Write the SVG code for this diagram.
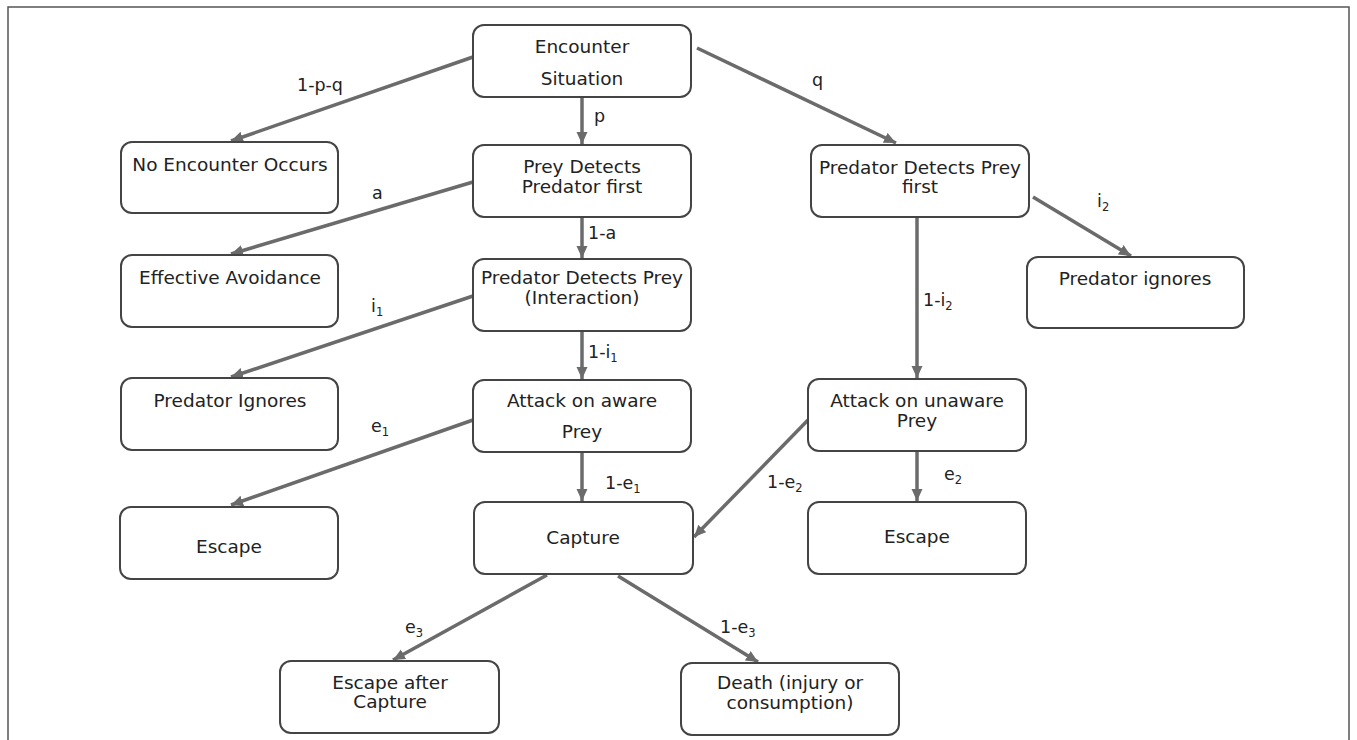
<svg xmlns="http://www.w3.org/2000/svg" width="1357" height="740" viewBox="0 0 1357 740">
<style>
.box{fill:#fff;stroke:#444;stroke-width:2}
.t{font-family:"DejaVu Sans",Verdana,sans-serif;font-size:18.5px;fill:#222;text-anchor:middle}
.lb{font-family:"DejaVu Sans",Verdana,sans-serif;font-size:17.5px;fill:#222}
.sub{font-size:11.5px}
.c{stroke:#6b6b6b;stroke-width:3.5;fill:none;marker-end:url(#ah)}
</style>
<defs>
<marker id="ah" markerUnits="userSpaceOnUse" markerWidth="14" markerHeight="12" refX="12" refY="5.5" orient="auto">
<path d="M0,0 L12,5.5 L0,11 Z" fill="#6b6b6b"/>
</marker>
</defs>
<rect x="0" y="0" width="1357" height="740" fill="#fff"/>
<path d="M8,740 V7 H1349 V740" fill="none" stroke="#555" stroke-width="1.5"/>
<g id="connectors">
<line class="c" x1="473" y1="57" x2="231" y2="141"/>
<line class="c" x1="582" y1="97" x2="582" y2="144"/>
<line class="c" x1="697" y1="48" x2="896" y2="143"/>
<line class="c" x1="473" y1="182" x2="231" y2="254"/>
<line class="c" x1="582" y1="217" x2="582" y2="258"/>
<line class="c" x1="1033" y1="197" x2="1131" y2="256"/>
<line class="c" x1="917" y1="217" x2="917" y2="378"/>
<line class="c" x1="473" y1="296" x2="231" y2="377"/>
<line class="c" x1="582" y1="331" x2="582" y2="379"/>
<line class="c" x1="473" y1="420" x2="231" y2="505"/>
<line class="c" x1="582" y1="452" x2="582" y2="501"/>
<line class="c" x1="808" y1="420" x2="694" y2="537"/>
<line class="c" x1="917" y1="451" x2="917" y2="501"/>
<line class="c" x1="547" y1="575" x2="393" y2="660"/>
<line class="c" x1="618" y1="576" x2="758" y2="662"/>
<text class="lb" x="297" y="91">1-p-q</text>
<text class="lb" x="594" y="122">p</text>
<text class="lb" x="812" y="86">q</text>
<text class="lb" x="372" y="199">a</text>
<text class="lb" x="588" y="239">1-a</text>
<text class="lb" x="1097" y="207">i<tspan class="sub" dy="4">2</tspan></text>
<text class="lb" x="923" y="306">1-i<tspan class="sub" dy="4">2</tspan></text>
<text class="lb" x="371" y="312">i<tspan class="sub" dy="4">1</tspan></text>
<text class="lb" x="588" y="358">1-i<tspan class="sub" dy="4">1</tspan></text>
<text class="lb" x="371" y="432">e<tspan class="sub" dy="4">1</tspan></text>
<text class="lb" x="605" y="489">1-e<tspan class="sub" dy="4">1</tspan></text>
<text class="lb" x="767" y="488">1-e<tspan class="sub" dy="4">2</tspan></text>
<text class="lb" x="944" y="480">e<tspan class="sub" dy="4">2</tspan></text>
<text class="lb" x="405" y="633">e<tspan class="sub" dy="4">3</tspan></text>
<text class="lb" x="720" y="633">1-e<tspan class="sub" dy="4">3</tspan></text>
</g>
<g id="encounter"><rect class="box" x="473" y="25" width="218" height="72" rx="11"/><text class="t" x="582" y="53">Encounter</text><text class="t" x="582" y="85">Situation</text></g>
<g id="no-encounter"><rect class="box" x="121" y="142" width="217" height="71" rx="11"/><text class="t" x="230" y="171">No Encounter Occurs</text></g>
<g id="prey-detects"><rect class="box" x="473" y="145" width="218" height="72" rx="11"/><text class="t" x="582" y="173">Prey Detects</text><text class="t" x="582" y="193">Predator first</text></g>
<g id="predator-detects-first"><rect class="box" x="811" y="145" width="218" height="72" rx="11"/><text class="t" x="920" y="174">Predator Detects Prey</text><text class="t" x="920" y="193">first</text></g>
<g id="effective-avoidance"><rect class="box" x="121" y="255" width="217" height="72" rx="11"/><text class="t" x="230" y="284">Effective Avoidance</text></g>
<g id="interaction"><rect class="box" x="473" y="259" width="218" height="72" rx="11"/><text class="t" x="582" y="284">Predator Detects Prey</text><text class="t" x="582" y="304">(Interaction)</text></g>
<g id="predator-ignores-right"><rect class="box" x="1027" y="257" width="217" height="71" rx="11"/><text class="t" x="1135" y="285">Predator ignores</text></g>
<g id="predator-ignores-left"><rect class="box" x="121" y="378" width="217" height="72" rx="11"/><text class="t" x="230" y="407">Predator Ignores</text></g>
<g id="attack-aware"><rect class="box" x="473" y="380" width="218" height="72" rx="11"/><text class="t" x="582" y="407">Attack on aware</text><text class="t" x="582" y="438">Prey</text></g>
<g id="attack-unaware"><rect class="box" x="808" y="379" width="218" height="72" rx="11"/><text class="t" x="917" y="407">Attack on unaware</text><text class="t" x="917" y="427">Prey</text></g>
<g id="escape-left"><rect class="box" x="120" y="507" width="218" height="72" rx="11"/><text class="t" x="229" y="553">Escape</text></g>
<g id="capture"><rect class="box" x="474" y="502" width="219" height="72" rx="11"/><text class="t" x="583" y="544">Capture</text></g>
<g id="escape-right"><rect class="box" x="808" y="502" width="218" height="72" rx="11"/><text class="t" x="917" y="543">Escape</text></g>
<g id="escape-after-capture"><rect class="box" x="280" y="661" width="219" height="72" rx="11"/><text class="t" x="390" y="689">Escape after</text><text class="t" x="390" y="708">Capture</text></g>
<g id="death"><rect class="box" x="681" y="663" width="218" height="72" rx="11"/><text class="t" x="790" y="689">Death (injury or</text><text class="t" x="790" y="709">consumption)</text></g>
</svg>
